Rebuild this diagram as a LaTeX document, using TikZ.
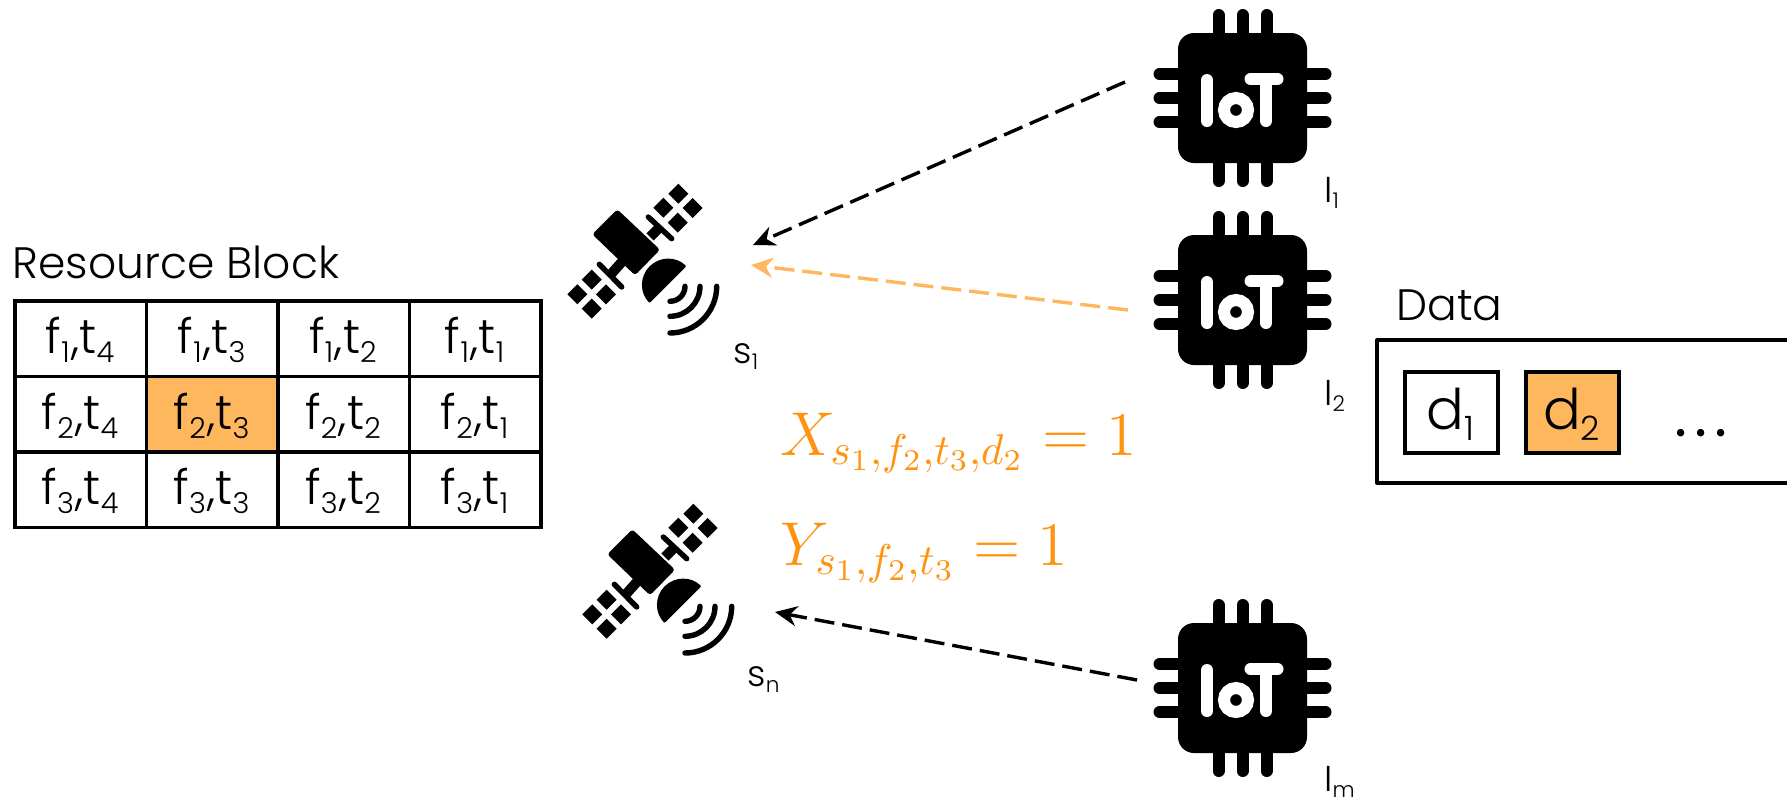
\documentclass[tikz,border=0pt]{standalone}
\usepackage{fontspec}
\setmainfont{Poppins Light}
\usetikzlibrary{arrows.meta}
\usetikzlibrary{positioning}
\definecolor{lightorange}{HTML}{FFB75E}
\definecolor{textorange}{HTML}{FF9310}
\newcommand{\lowsub}[1]{\raisebox{-0.19em}{\scalebox{0.6}{#1}}\kern0.03em}
\tikzstyle{cell}=[draw,line width=1.8pt,minimum width=65.75pt,minimum height=37.75pt,inner sep=0pt,text height=21pt,text depth=6pt,font=\fontsize{24}{24}\selectfont]
\tikzstyle{databox}=[draw,line width=2pt,minimum width=46.5pt,minimum height=40.5pt,inner sep=0pt,text height=24pt,text depth=7pt,font=\fontsize{28}{28}\selectfont]
\tikzstyle{title}=[font=\fontsize{22}{22}\selectfont,inner sep=0pt,anchor=base west]
\tikzstyle{tag}=[font=\fontsize{18}{18}\selectfont,inner sep=0pt,anchor=base west]
\tikzstyle{formula}=[font=\fontsize{14.4}{17}\selectfont,text=textorange,inner sep=0pt,anchor=base west]
\tikzstyle{link}=[line width=1.7pt,dash pattern=on 10pt off 4pt,-{Stealth[length=11pt,width=10pt]}]
\tikzset{
  chip/.pic={
    \fill[rounded corners=8pt] (-64.5,-65) rectangle (64.5,65);
    \foreach \p in {-24,0,24} {
      \draw[line width=6pt,line cap=round] (\p,60) -- (\p,83);
      \draw[line width=6pt,line cap=round] (\p,-60) -- (\p,-83);
      \draw[line width=6pt,line cap=round] (60,\p) -- (83,\p);
      \draw[line width=6pt,line cap=round] (-60,\p) -- (-83,\p);
    }
    \draw[white,line width=6pt,line cap=round] (-35.5,18) -- (-35.5,-23);
    \draw[white,line width=6pt] (-6.5,-12) circle (12);
    \draw[white,line width=6pt,line cap=round] (23.5,18) -- (23.5,-23);
    \draw[white,line width=6pt,line cap=round] (8,19) -- (35,19);
  },
  satellite/.pic={
    \foreach \p/\q in {38.3/63.3,23.3/49.3,52.7/49,37.7/34.3,-62.7/-37.3,-48.3/-22.7,-34/-37.3,-48.3/-51.7}
      \fill (\p+10,\q) -- (\p,\q+10) -- (\p-10,\q) -- (\p,\q-10) -- cycle;
    \fill[rounded corners=1.5pt] (-22.7,47.7) -- (-47.7,22.7) -- (-5,-18.3) -- (20,7.3) -- cycle;
    \draw[line width=2.7pt,line cap=round] (8.3,40) -- (31.7,18.3);
    \draw[line width=2.7pt,line cap=round] (-40.7,-7.3) -- (-18.3,-30);
    \draw[line width=5pt] (10,20) -- (20,30);
    \draw[line width=5pt] (-16.7,-3.3) -- (-30,-18.3);
    \fill[rounded corners=0.5pt] (46.4,-9.3) arc (45:225:26) -- cycle;
    \foreach \r in {15,30,46.7}
      \draw[line width=2.7pt,line cap=round] (30+\r,-29.3) arc (0:-90:\r);
  }
}
\begin{document}
\begin{tikzpicture}[x=0.5pt,y=0.5pt]
\useasboundingbox (0,0) rectangle (1787,-804);

% resource block
\node [title] (blocktitle) at (12,-278) {Resource Block};
\foreach \r in {1,2,3} {
  \foreach \c/\t in {1/4,2/3,3/2,4/1} {
    \def\cellfill{none}
    \ifnum\r\c=22 \def\cellfill{lightorange}\fi
    \node [cell,fill=\cellfill] (c\r\c) at ({15+131.5*(\c-0.5)},{-301-75.5*(\r-0.5)}) {f\lowsub{\r},t\lowsub{\t}};
  }
}

% satellites
\pic at (640,-257) {satellite};
\pic at (655,-577) {satellite};
\node [tag] (s1) at (733,-363) {s\lowsub{1}};
\node [tag] (sn) at (747,-686) {s\lowsub{n}};

% devices
\pic at (1242.5,-98) {chip};
\pic at (1242.5,-300) {chip};
\pic at (1242.5,-688) {chip};
\node [tag] (i1) at (1324,-202) {I\lowsub{1}};
\node [tag] (i2) at (1324,-405) {I\lowsub{2}};
\node [tag] (im) at (1324,-791) {I\lowsub{m}};

% arrows
\coordinate (from1) at (1125,-82);
\coordinate (to1) at (753,-245);
\coordinate (from2) at (1128,-310);
\coordinate (to2) at (751,-265);
\coordinate (fromm) at (1137,-680);
\coordinate (tom) at (775,-612);
\draw [link] (from1) -- (to1);
\draw [link,lightorange] (from2) -- (to2);
\draw [link] (fromm) -- (tom);

% formulas
\node [formula] (xvar) at (780,-455) {\scalebox{2.15}{$X_{s_1,f_2,t_3,d_2}=1$}};
\node [formula] (yvar) at (780,-565) {\scalebox{2.15}{$Y_{s_1,f_2,t_3}=1$}};

% data
\node [title] (datatitle) at (1396,-320) {Data};
\draw [line width=2pt,line join=round] (1787,-340) -- (1377,-340) -- (1377,-483) -- (1787,-483);
\node [databox] (d1) at (1451.5,-412.5) {d\lowsub{1}};
\node [databox,fill=lightorange] (d2) at (1572.5,-412.5) {d\lowsub{2}};
\node [font=\fontsize{36}{36}\selectfont,inner sep=0pt,anchor=base] (dots) at (1701,-436) {.\kern3.5pt.\kern3.5pt.};
\end{tikzpicture}
\end{document}
